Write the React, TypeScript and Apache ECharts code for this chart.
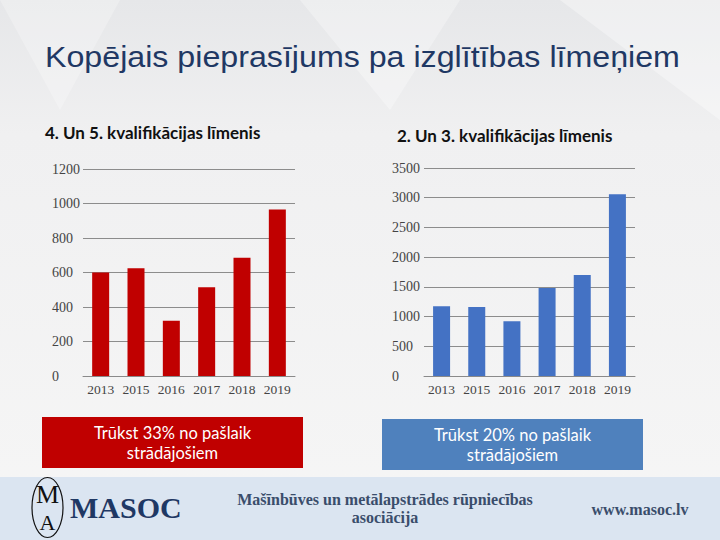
import React, { useEffect, useRef } from "react";
import * as echarts from "echarts";

const years = ["2013", "2015", "2016", "2017", "2018", "2019"];
const level45 = [600, 625, 320, 515, 685, 965];
const level23 = [1175, 1160, 920, 1480, 1700, 3060];
const mainTitle = "Kopējais pieprasījums pa izglītības līmeņiem";
const leftTitle = "4. Un 5. kvalifikācijas līmenis";
const rightTitle = "2. Un 3. kvalifikācijas līmenis";
const leftNote = "Trūkst 33% no pašlaik\nstrādājošiem";
const rightNote = "Trūkst 20% no pašlaik\nstrādājošiem";
const footerOrg = "Mašīnbūves un metālapstrādes rūpniecības\nasociācija";
const footerUrl = "www.masoc.lv";

const serif = "'Liberation Serif', 'DejaVu Serif', serif";
const sans = "Lato, 'Open Sans', sans-serif";

export default function App() {
  const ref = useRef<HTMLDivElement>(null);
  useEffect(() => {
    document.body.style.margin = "0";
    const chart = echarts.init(ref.current!, null, { renderer: "svg" });
    const xAxisCommon = {
      type: "category" as const,
      data: years,
      axisTick: { show: false },
      axisLine: { lineStyle: { color: "#8a8a8a", width: 1 } },
      axisLabel: { color: "#444", fontFamily: serif, fontSize: 13.5, margin: 6 },
    };
    const yAxisCommon = {
      type: "value" as const,
      axisLine: { show: false },
      axisTick: { show: false },
      splitLine: { lineStyle: { color: "#8c8c8c", width: 1 } },
    };
    const yLabel = (margin: number) => ({
      color: "#444", fontFamily: serif, fontSize: 14, margin, align: "left" as const,
      formatter: (v: number) => String(v),
    });
    chart.setOption({
      animation: false,
      backgroundColor: {
        type: "linear", x: 0, y: 0, x2: 0, y2: 1,
        colorStops: [
          { offset: 0, color: "#e6e7e9" },
          { offset: 0.25, color: "#f0f0f1" },
          { offset: 1, color: "#f6f6f6" },
        ],
      },
      grid: [
        { left: 83, top: 169, width: 212, height: 207 },
        { left: 424, top: 168, width: 211, height: 208 },
      ],
      xAxis: [
        { ...xAxisCommon, gridIndex: 0 },
        { ...xAxisCommon, gridIndex: 1 },
      ],
      yAxis: [
        { ...yAxisCommon, gridIndex: 0, min: 0, max: 1200, interval: 200, axisLabel: yLabel(31) },
        { ...yAxisCommon, gridIndex: 1, min: 0, max: 3500, interval: 500, axisLabel: yLabel(32) },
      ],
      series: [
        { type: "bar", xAxisIndex: 0, yAxisIndex: 0, data: level45, barWidth: 17, itemStyle: { color: "#c00000" } },
        { type: "bar", xAxisIndex: 1, yAxisIndex: 1, data: level23, barWidth: 17, itemStyle: { color: "#4472c4" } },
      ],
      graphic: [
        { type: "polygon", silent: true, z: -1, shape: { points: [[0, 0], [120, 0], [60, 110]] }, style: { fill: "rgba(255,255,255,0.25)" } },
        { type: "polygon", silent: true, z: -1, shape: { points: [[300, 0], [460, 0], [390, 110]] }, style: { fill: "rgba(255,255,255,0.3)" } },
        { type: "polygon", silent: true, z: -1, shape: { points: [[560, 0], [720, 0], [720, 120]] }, style: { fill: "rgba(255,255,255,0.35)" } },
        {
          type: "text", x: 45, y: 57, scaleX: 1.11,
          style: { text: mainTitle, fontFamily: "'Liberation Sans', Arial, sans-serif", fontSize: 29, fill: "#1f3864", verticalAlign: "middle" },
        },
        {
          type: "text", x: 45, y: 132,
          style: { text: leftTitle, fontFamily: sans, fontWeight: "bold", fontSize: 17, fill: "#111", verticalAlign: "middle" },
        },
        {
          type: "text", x: 397, y: 135,
          style: { text: rightTitle, fontFamily: sans, fontWeight: "bold", fontSize: 17, fill: "#111", verticalAlign: "middle" },
        },
        { type: "rect", shape: { x: 42, y: 417, width: 261, height: 51 }, style: { fill: "#c00000" } },
        {
          type: "text", x: 172.5, y: 443,
          style: { text: leftNote, fontFamily: sans, fontSize: 16.5, fill: "#ffffff", align: "center", verticalAlign: "middle", lineHeight: 20 },
        },
        { type: "rect", shape: { x: 382, y: 419, width: 261, height: 51 }, style: { fill: "#4f81bd" } },
        {
          type: "text", x: 512.5, y: 445,
          style: { text: rightNote, fontFamily: sans, fontSize: 16.5, fill: "#ffffff", align: "center", verticalAlign: "middle", lineHeight: 20 },
        },
        { type: "rect", shape: { x: 0, y: 477, width: 720, height: 63 }, style: { fill: "#dbe5f1" } },
        { type: "ellipse", shape: { cx: 47.5, cy: 507.5, rx: 15.5, ry: 30 }, style: { fill: "none", stroke: "#111", lineWidth: 1.2 } },
        {
          type: "text", x: 47.5, y: 494, style: { text: "M", fontFamily: serif, fontSize: 26, fill: "#111", align: "center", verticalAlign: "middle" },
        },
        {
          type: "text", x: 47.5, y: 522, style: { text: "A", fontFamily: serif, fontSize: 22, fill: "#111", align: "center", verticalAlign: "middle" },
        },
        {
          type: "text", left: 70, top: 492,
          style: { text: "MASOC", fontFamily: serif, fontWeight: "bold", fontSize: 30, fill: "#1f3864" },
        },
        {
          type: "text", x: 385, y: 508,
          style: { text: footerOrg, fontFamily: serif, fontWeight: "bold", fontSize: 16, fill: "#3a4d6b", align: "center", verticalAlign: "middle", lineHeight: 18 },
        },
        {
          type: "text", x: 640, y: 509,
          style: { text: footerUrl, fontFamily: serif, fontWeight: "bold", fontSize: 16, fill: "#3a4d6b", align: "center", verticalAlign: "middle" },
        },
      ],
    });
    return () => chart.dispose();
  }, []);
  return <div ref={ref} style={{ width: 720, height: 540 }} />;
}
